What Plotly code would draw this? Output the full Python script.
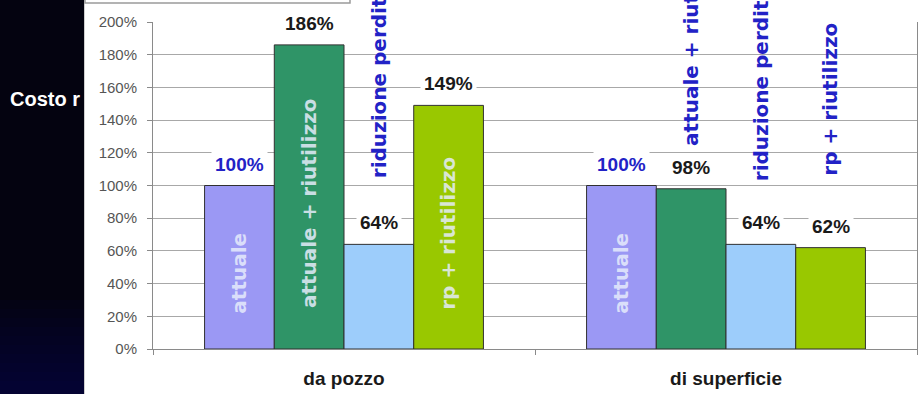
import plotly.graph_objects as go

# ---- data -------------------------------------------------------------
categories = ["da pozzo", "di superficie"]
series_names = ["attuale", "attuale + riutilizzo", "riduzione perdite", "rp + riutilizzo"]
attuale = [100, 100]
attuale_riutilizzo = [186, 98]
riduzione_perdite = [64, 64]
rp_riutilizzo = [149, 62]
y_ticks = [0, 20, 40, 60, 80, 100, 120, 140, 160, 180, 200]
y_tick_labels = [f"{t}%" for t in y_ticks]

# ---- styling ----------------------------------------------------------
W, H = 920, 394
M_L, M_R, M_T, M_B = 153, 3, 22, 45
PLOT_W = W - M_L - M_R
PLOT_H = H - M_T - M_B
Y_MAX = 200
BARGAP = 0.27
BAR_W = (1 - BARGAP) / len(series_names)

bar_colors = ["#9b98f4", "#2f9467", "#9dcdfb", "#99c800"]
ARIAL = "Liberation Sans, Arial, sans-serif"
DEJAVU = "DejaVu Sans, sans-serif"
BLUE = "#2222c6"

# series names written outside the bar (gap in px between bar top and text start)
outside_name_gap = {
    (0, 2): 64,
    (1, 1): 41,
    (1, 2): 61,
    (1, 3): 70,
}

series_values = [attuale, attuale_riutilizzo, riduzione_perdite, rp_riutilizzo]


def px_x(px):
    return (px - M_L) / PLOT_W


def px_y(py):
    return (H - M_B - py) / PLOT_H


fig = go.Figure()
for name, vals, col in zip(series_names, series_values, bar_colors):
    fig.add_trace(go.Bar(
        x=categories, y=vals, name=name,
        marker=dict(color=col, line=dict(color="#303030", width=1)),
        showlegend=False, hoverinfo="skip",
    ))

annotations = []
for gi, cat in enumerate(categories):
    for si, (name, vals) in enumerate(zip(series_names, series_values)):
        v = vals[gi]
        xpos = gi + (si - (len(series_names) - 1) / 2) * BAR_W
        # value label above the bar
        annotations.append(dict(
            x=xpos, y=v, xref="x", yref="y", text=f"{v}%", showarrow=False,
            yanchor="middle", yshift=21.5, bgcolor="white", borderpad=3,
            font=dict(family=ARIAL, size=19, weight="bold",
                      color=BLUE if si == 0 else "#1a1a1a"),
        ))
        # series name, rotated
        if (gi, si) in outside_name_gap:
            annotations.append(dict(
                x=xpos, y=v, xref="x", yref="y", text=name, showarrow=False,
                textangle=-90, yanchor="bottom", yshift=outside_name_gap[(gi, si)],
                font=dict(family=DEJAVU, size=20, weight="bold", color=BLUE),
            ))
        else:
            annotations.append(dict(
                x=xpos, y=v / 2, xref="x", yref="y", text=name, showarrow=False,
                textangle=-90, yanchor="middle", yshift=-6,
                font=dict(family=DEJAVU, size=20, weight="bold",
                          color="rgba(230,236,252,0.85)"),
            ))

# slide title fragment on the dark panel
annotations.append(dict(
    x=px_x(45), y=px_y(99), xref="paper", yref="paper", text="Costo r",
    showarrow=False, xanchor="center", yanchor="middle",
    font=dict(family=ARIAL, size=20, weight="bold", color="white"),
))

shapes = [
    # dark slide background on the left
    dict(type="rect", xref="paper", yref="paper", layer="below",
         x0=px_x(-2), x1=px_x(84), y0=px_y(396), y1=px_y(-2),
         fillcolor="#040310", line=dict(width=0)),
]
# faint indigo glow towards the bottom of the dark panel
for k in range(10):
    top = 300 + k * 9
    shapes.append(dict(type="rect", xref="paper", yref="paper", layer="below",
                       x0=px_x(-2), x1=px_x(84), y0=px_y(396), y1=px_y(top),
                       fillcolor="rgba(35,20,140,0.035)", line=dict(width=0)))
shapes += [
    dict(type="line", xref="paper", yref="paper", layer="below",
         x0=px_x(84.5), x1=px_x(84.5), y0=px_y(396), y1=px_y(-2),
         line=dict(color="#cfcfcf", width=1)),
    # box clipped at the top edge
    dict(type="rect", xref="paper", yref="paper", layer="above",
         x0=px_x(85), x1=px_x(350), y0=px_y(3), y1=px_y(-6),
         fillcolor="white", line=dict(color="#9a9a9a", width=1.5)),
]

fig.update_layout(
    width=W, height=H,
    margin=dict(l=M_L, r=M_R, t=M_T, b=M_B, pad=0),
    paper_bgcolor="white", plot_bgcolor="white",
    barmode="group", bargap=BARGAP, bargroupgap=0,
    annotations=annotations, shapes=shapes,
    xaxis=dict(
        type="category", showline=True, linecolor="#8a8a8a", linewidth=1,
        ticks="outside", tickson="boundaries", ticklen=5, tickcolor="#8a8a8a",
        showgrid=False, zeroline=False, ticklabelstandoff=12,
        tickfont=dict(family=ARIAL, size=19, weight="bold", color="#1a1a1a"),
    ),
    yaxis=dict(
        range=[0, Y_MAX], tickvals=y_ticks, ticktext=y_tick_labels,
        showline=True, mirror=True, linecolor="#8a8a8a", linewidth=1,
        ticks="outside", ticklen=5, tickcolor="#8a8a8a",
        showgrid=True, gridcolor="#a8a8a8", gridwidth=1, zeroline=False,
        ticklabelstandoff=7,
        tickfont=dict(family=ARIAL, size=15, color="#555555"),
    ),
)

fig.write_html("out.html")
